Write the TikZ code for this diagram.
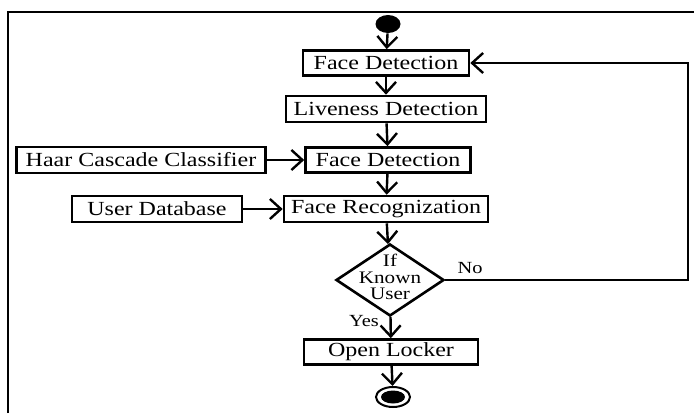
\documentclass[tikz,border=0pt]{standalone}
\usepackage{fontspec}
\setmainfont[FakeStretch=1.2]{Liberation Serif}
\usetikzlibrary{arrows.meta,calc,shapes.geometric}
\tikzset{
	box/.style={draw, line width=1.3pt, inner sep=0pt, minimum height=12.5pt, font=\fontsize{10}{11}\selectfont},
	flow/.style={-{Straight Barb[length=5.5pt, width=10pt, line width=1.2pt]}, line width=1.2pt},
	test/.style={draw, diamond, line width=1.3pt, inner sep=0pt, minimum width=54pt, minimum height=36pt},
	small/.style={font=\fontsize{8.5}{9}\selectfont, inner sep=1pt}
}

\begin{document}
\begin{tikzpicture}[x=0.5pt, y=-0.5pt]
		\useasboundingbox (0, 0) rectangle (694, 413);
		\draw[line width=1.2pt]	(8, 413) -- (8, 12) -- (694, 12);

		\node[ellipse, fill=black, inner sep=0pt, minimum width=12.5pt, minimum height=9pt]	(start) at (388, 24) {};
		\node[box, minimum width=83pt]		(detect) at (386, 63) {Face Detection};
		\node[box, minimum width=100pt, minimum height=13pt]	(live) at (386, 109) {Liveness Detection};
		\node[box, minimum width=82.5pt]	(detect2) at (388, 160) {Face Detection};
		\node[box, minimum width=124.5pt, minimum height=13pt]	(haar) at (141, 160) {Haar Cascade Classifier};
		\node[box, minimum width=85pt, minimum height=13pt]	(userdb) at (157, 209) {User Database};
		\node[box, minimum width=102pt, minimum height=13pt]	(recog) at (386, 209) {Face Recognization};
		\node[test]	(known) at (390, 280) {};
		\node[align=center, inner sep=0pt, font=\fontsize{8.8}{8.2}\selectfont]	(knowntext) at (390, 277) {If\\Known\\User};
		\node[box, minimum width=87pt]		(locker) at (391, 352) {Open Locker};
		\node[ellipse, draw, line width=1pt, inner sep=0pt, minimum width=17pt, minimum height=10pt]	(stop) at (393, 397) {};
		\node[ellipse, fill=black, inner sep=0pt, minimum width=12pt, minimum height=6.5pt]	(stopdot) at (stop) {};
		\coordinate (corner) at (688, 63);

		\draw[flow]	(start) to (detect);
		\draw[flow]	(detect) to (live);
		\draw[flow]	(live) to (detect2);
		\draw[flow]	(haar) to (detect2);
		\draw[flow]	(detect2) to (recog);
		\draw[flow]	(userdb) to (recog);
		\draw[flow]	(recog) to (known);
		\draw[flow]	(known) to (locker);
		\draw[flow]	(locker) to (stop);
		\draw[flow]	(known.east) -| (corner) -- (detect.east);
		\node[small]	(yes) at (364, 321) {Yes};
		\node[small]	(no) at (470, 268) {No};
	\end{tikzpicture}
\end{document}
